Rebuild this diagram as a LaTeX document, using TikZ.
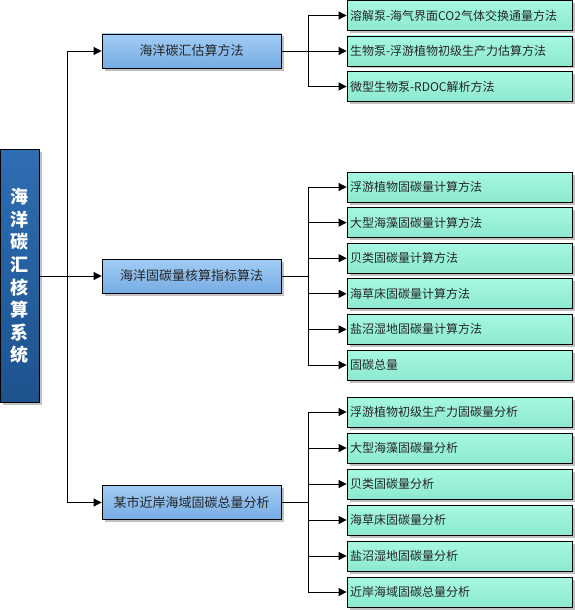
\documentclass[tikz,border=0pt]{standalone}
\usepackage{fontspec}
\newfontfamily\cjk{Noto Sans CJK SC}
\usetikzlibrary{arrows.meta,shadows}
\tikzset{
  x=1pt,y=-1pt,
  shad/.style={drop shadow={shadow xshift=2.5pt,shadow yshift=-2.5pt,fill=black!35,opacity=0.7}},
  rootbox/.style={draw=black,line width=0.8pt,top color=rootT,bottom color=rootB,shad,
    minimum width=39pt,minimum height=253pt,inner sep=0pt,align=center,text=white,
    font=\cjk\bfseries\fontsize{18}{22.6}\selectfont},
  midbox/.style={draw=black,line width=0.8pt,top color=midT,bottom color=midB,shad,
    minimum width=179pt,minimum height=34pt,inner sep=0pt,text=black!85,
    font=\cjk\fontsize{13}{15}\selectfont},
  leafbox/.style={draw=black,line width=0.8pt,top color=leafT,bottom color=leafB,shad,
    minimum width=225pt,minimum height=30pt,inner sep=0pt,text width=219pt,align=left,
    text=black!85,font=\cjk\fontsize{12}{14}\selectfont},
  conn/.style={draw=black,line width=0.8pt},
  arr/.style={conn,-{Triangle[length=8pt,width=8pt]}}
}
\definecolor{rootT}{HTML}{2E6EB2}
\definecolor{rootB}{HTML}{1D528E}
\definecolor{midT}{HTML}{A2CCF4}
\definecolor{midB}{HTML}{76ACE4}
\definecolor{leafT}{HTML}{A6F7E2}
\definecolor{leafB}{HTML}{8DE9D0}
\begin{document}
\begin{tikzpicture}
\useasboundingbox (0,0) rectangle (574,610);
\node[rootbox] (root) at (19.5,276) {海\\洋\\碳\\汇\\核\\算\\系\\统};
\node[midbox] (m1) at (191.5,51) {海洋碳汇估算方法};
\node[midbox] (m2) at (191.5,276) {海洋固碳量核算指标算法};
\node[midbox] (m3) at (191.5,502.5) {某市近岸海域固碳总量分析};
% group 1
\node[leafbox] (a1) at (459.5,15.5) {溶解泵-海气界面CO2气体交换通量方法};
\node[leafbox] (a2) at (459.5,51) {生物泵-浮游植物初级生产力估算方法};
\node[leafbox] (a3) at (459.5,86.5) {微型生物泵-RDOC解析方法};
% group 2
\node[leafbox] (b1) at (459.5,187) {浮游植物固碳量计算方法};
\node[leafbox] (b2) at (459.5,222.6) {大型海藻固碳量计算方法};
\node[leafbox] (b3) at (459.5,258.2) {贝类固碳量计算方法};
\node[leafbox] (b4) at (459.5,293.8) {海草床固碳量计算方法};
\node[leafbox] (b5) at (459.5,329.4) {盐沼湿地固碳量计算方法};
\node[leafbox] (b6) at (459.5,365) {固碳总量};
% group 3
\node[leafbox] (c1) at (459.5,412) {浮游植物初级生产力固碳量分析};
\node[leafbox] (c2) at (459.5,448) {大型海藻固碳量分析};
\node[leafbox] (c3) at (459.5,484) {贝类固碳量分析};
\node[leafbox] (c4) at (459.5,520) {海草床固碳量分析};
\node[leafbox] (c5) at (459.5,556) {盐沼湿地固碳量分析};
\node[leafbox] (c6) at (459.5,592) {近岸海域固碳总量分析};
% trunk
\coordinate (t) at (67,276);
\draw[conn] (root.east) -- (t);
\foreach \m in {m1,m2,m3} \draw[arr] (t) |- (\m.west);
% branches
\coordinate (j1) at (308,51);
\coordinate (j2) at (308,276);
\coordinate (j3) at (308,502.5);
\draw[conn] (m1.east) -- (j1);
\draw[conn] (m2.east) -- (j2);
\draw[conn] (m3.east) -- (j3);
\foreach \l in {a1,a2,a3} \draw[arr] (j1) |- (\l.west);
\foreach \l in {b1,b2,b3,b4,b5,b6} \draw[arr] (j2) |- (\l.west);
\foreach \l in {c1,c2,c3,c4,c5,c6} \draw[arr] (j3) |- (\l.west);
\end{tikzpicture}
\end{document}
